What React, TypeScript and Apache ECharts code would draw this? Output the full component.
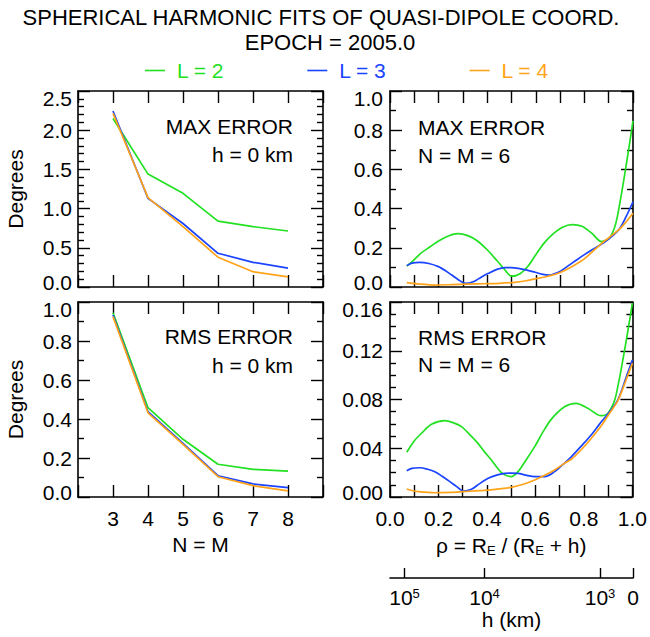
import React, { useEffect, useRef } from 'react';
import * as echarts from 'echarts';

const FONT = '"Liberation Sans", Arial, Helvetica, sans-serif';
const GREEN = '#22e022';
const BLUE = '#1a44ff';
const ORANGE = '#ffa31a';

const seriesNames = ['L = 2', 'L = 3', 'L = 4'];
const seriesColors = [GREEN, BLUE, ORANGE];

// Left panels: x = N = M
const nm = [3, 4, 5, 6, 7, 8];
const maxH0L2 = [2.15, 1.44, 1.195, 0.84, 0.77, 0.714];
const maxH0L3 = [2.245, 1.13, 0.81, 0.43, 0.315, 0.24];
const maxH0L4 = [2.215, 1.14, 0.77, 0.38, 0.195, 0.13];
const rmsH0L2 = [0.945, 0.458, 0.296, 0.168, 0.142, 0.133];
const rmsH0L3 = [0.933, 0.4375, 0.275, 0.109, 0.067, 0.048];
const rmsH0L4 = [0.925, 0.432, 0.27, 0.104, 0.058, 0.031];

// Right panels: [rho, degrees], N = M = 6
const maxN6L2: [number, number][] = [
  [0.069, 0.106], [0.1, 0.14], [0.13, 0.175], [0.165, 0.205], [0.2, 0.235], [0.24, 0.26],
  [0.28, 0.272], [0.32, 0.262], [0.36, 0.235], [0.4, 0.19], [0.44, 0.135], [0.47, 0.092],
  [0.5, 0.055], [0.535, 0.068], [0.57, 0.11], [0.6, 0.165], [0.635, 0.225], [0.67, 0.27],
  [0.71, 0.305], [0.75, 0.318], [0.79, 0.31], [0.83, 0.275], [0.87, 0.232], [0.905, 0.252],
  [0.935, 0.355], [1.0, 0.847],
];
const maxN6L3: [number, number][] = [
  [0.069, 0.109], [0.09, 0.122], [0.123, 0.126], [0.16, 0.12], [0.199, 0.104], [0.23, 0.082],
  [0.254, 0.061], [0.28, 0.038], [0.309, 0.019], [0.343, 0.027], [0.375, 0.05], [0.405, 0.07],
  [0.44, 0.09], [0.473, 0.099], [0.5, 0.099], [0.528, 0.095], [0.56, 0.087], [0.597, 0.075],
  [0.63, 0.064], [0.652, 0.061], [0.693, 0.075], [0.73, 0.105], [0.768, 0.138], [0.8, 0.165],
  [0.83, 0.189], [0.885, 0.231], [0.94, 0.29], [0.97, 0.355], [1.0, 0.435],
];
const maxN6L4: [number, number][] = [
  [0.069, 0.022], [0.12, 0.015], [0.185, 0.01], [0.25, 0.012], [0.32, 0.015], [0.39, 0.017],
  [0.45, 0.019], [0.514, 0.024], [0.56, 0.032], [0.597, 0.041], [0.65, 0.055], [0.693, 0.07],
  [0.75, 0.105], [0.802, 0.146], [0.871, 0.223], [0.94, 0.29], [0.97, 0.33], [1.0, 0.376],
];
const rmsN6L2: [number, number][] = [
  [0.069, 0.0367], [0.1, 0.046], [0.13, 0.0523], [0.171, 0.0596], [0.226, 0.0626], [0.26, 0.061],
  [0.295, 0.0577], [0.33, 0.051], [0.363, 0.044], [0.39, 0.037], [0.418, 0.0304], [0.46, 0.02],
  [0.5, 0.0167], [0.528, 0.0208], [0.56, 0.03], [0.597, 0.0413], [0.63, 0.053], [0.665, 0.0637],
  [0.72, 0.074], [0.768, 0.0769], [0.816, 0.0728], [0.871, 0.0667], [0.901, 0.0692],
  [0.933, 0.084], [1.0, 0.159],
];
const rmsN6L3: [number, number][] = [
  [0.069, 0.0216], [0.09, 0.0235], [0.123, 0.024], [0.155, 0.0228], [0.185, 0.0208], [0.215, 0.017],
  [0.247, 0.0126], [0.275, 0.0085], [0.302, 0.0049], [0.336, 0.0063], [0.37, 0.011], [0.405, 0.0153],
  [0.44, 0.018], [0.473, 0.0194], [0.5, 0.0196], [0.528, 0.0194], [0.56, 0.018], [0.597, 0.0167],
  [0.638, 0.0167], [0.679, 0.0208], [0.715, 0.027], [0.748, 0.033], [0.79, 0.042], [0.83, 0.0509],
  [0.865, 0.06], [0.901, 0.0687], [0.94, 0.0796], [0.98, 0.1015], [1.0, 0.1124],
];
const rmsN6L4: [number, number][] = [
  [0.069, 0.0066], [0.09, 0.0053], [0.117, 0.0044], [0.185, 0.0035], [0.25, 0.0038], [0.302, 0.0044],
  [0.35, 0.005], [0.405, 0.0057], [0.45, 0.0066], [0.5, 0.0079], [0.55, 0.0105], [0.597, 0.014],
  [0.64, 0.018], [0.679, 0.0222], [0.715, 0.027], [0.748, 0.031], [0.79, 0.039], [0.83, 0.048],
  [0.87, 0.058], [0.901, 0.0673], [0.94, 0.079], [0.97, 0.094], [1.0, 0.1097],
];

// Secondary altitude axis
const earthRadiusKm = 6371.2;
const hTicksKm = [100000, 10000, 1000, 0];
const hTickLabels = ['10{sup|5}', '10{sup|4}', '10{sup|3}', '0'];

const titleLines = ['SPHERICAL HARMONIC FITS OF QUASI-DIPOLE COORD.', 'EPOCH = 2005.0'];

const BLACK = '#000';
const axisLineStyle = { color: BLACK, width: 1.6 };
const tickStyle = { color: BLACK, width: 1.4 };
const baseText = { fontSize: 21, fontFamily: FONT, color: BLACK };

function xAxes(grid: number, min: number, max: number, interval: number, labelFn: ((v: number) => string) | null, name?: any) {
  const base = {
    gridIndex: grid, type: 'value', min, max, interval,
    axisLine: { show: true, onZero: false, lineStyle: axisLineStyle },
    axisTick: { show: true, inside: true, length: 12, lineStyle: tickStyle },
    splitLine: { show: false },
  };
  return [
    {
      ...base, position: 'bottom',
      axisLabel: labelFn
        ? { show: true, formatter: labelFn, ...baseText, margin: 11, showMinLabel: true, showMaxLabel: true, hideOverlap: false }
        : { show: false },
      ...(name || {}),
    },
    { ...base, position: 'top', axisLabel: { show: false } },
  ];
}

function yAxes(grid: number, min: number, max: number, interval: number, minorSplit: number, digits: number, margin: number, withName: boolean) {
  const base = {
    gridIndex: grid, type: 'value', min, max, interval,
    axisLine: { show: true, onZero: false, lineStyle: axisLineStyle },
    axisTick: { show: true, inside: true, length: 12, lineStyle: tickStyle },
    minorTick: { show: true, splitNumber: minorSplit, length: 6, lineStyle: tickStyle },
    splitLine: { show: false },
    minorSplitLine: { show: false },
  };
  const fmt = (v: number) => {
    const s = v.toFixed(digits);
    if (Math.abs(v - min) < 1e-9) return `{lo|${s}}`;
    if (Math.abs(v - max) < 1e-9) return `{hi|${s}}`;
    return s;
  };
  return [
    {
      ...base, position: 'left',
      axisLabel: {
        show: true, formatter: fmt, ...baseText, margin,
        rich: {
          lo: { ...baseText, padding: [0, 0, 10, 0] },
          hi: { ...baseText, padding: [14, 0, 0, 0] },
        },
      },
      ...(withName
        ? {
            name: 'Degrees', nameLocation: 'middle', nameRotate: 90, nameGap: 52,
            nameTextStyle: baseText,
          }
        : {}),
    },
    { ...base, position: 'right', axisLabel: { show: false } },
  ];
}

const nmLabel = (v: number) => (v >= 3 && v <= 8 ? String(v) : '');
const rhoLabel = (v: number) => (Math.round(v * 10) % 2 === 0 ? v.toFixed(1) : '');

function line(name: string, color: string, data: any[], grid: number, smooth: number | boolean) {
  return {
    type: 'line', name, data, xAxisIndex: 2 * grid, yAxisIndex: 2 * grid,
    symbol: 'none', showSymbol: false, smooth,
    lineStyle: { color, width: 1.7 }, itemStyle: { color },
  };
}

const zip = (xs: number[], ys: number[]) => xs.map((x, i) => [x, ys[i]]);

function textEl(text: string, x: number, y: number, align: string, size = 21) {
  return {
    type: 'text', x, y, silent: true,
    style: {
      text, fill: BLACK, fontSize: size, fontFamily: FONT,
      align, textAlign: align, verticalAlign: 'middle', textVerticalAlign: 'middle',
    },
  };
}

export default function App() {
  const ref = useRef<HTMLDivElement>(null);
  useEffect(() => {
    if (!ref.current) return;
    const chart = echarts.init(ref.current, undefined, { renderer: 'svg' });
    const rhoTicks = hTicksKm.map((h) => earthRadiusKm / (earthRadiusKm + h));
    const hLabel = (v: number) => {
      let best = 0;
      rhoTicks.forEach((r, i) => { if (Math.abs(r - v) < Math.abs(rhoTicks[best] - v)) best = i; });
      return hTickLabels[best];
    };
    const option: any = {
      animation: false,
      backgroundColor: '#fff',
      textStyle: { fontFamily: FONT },
      grid: [
        { left: 78, top: 91, width: 245, height: 196 },
        { left: 390, top: 91, width: 243, height: 196 },
        { left: 78, top: 302, width: 245, height: 195 },
        { left: 390, top: 302, width: 243, height: 195 },
        { left: 390, top: 568, width: 243, height: 10 },
      ],
      xAxis: [
        ...xAxes(0, 2, 9, 1, null),
        ...xAxes(1, 0, 1, 0.1, null),
        ...xAxes(2, 2, 9, 1, nmLabel, {
          name: 'N = M', nameLocation: 'middle', nameGap: 37,
          nameTextStyle: baseText,
        }),
        ...xAxes(3, 0, 1, 0.1, rhoLabel, {
          name: '{n|ρ = R}{s|E}{n| / (R}{s|E}{n| + h)}', nameLocation: 'middle', nameGap: 36,
          nameTextStyle: {
            ...baseText,
            rich: {
              n: { ...baseText, lineHeight: 24 },
              s: { fontSize: 13, fontFamily: FONT, color: BLACK, lineHeight: 13, verticalAlign: 'bottom' },
            },
          },
        }),
        {
          gridIndex: 4, type: 'value', min: 0, max: 1, position: 'bottom',
          axisLine: { show: true, onZero: false, lineStyle: axisLineStyle },
          axisTick: { show: true, inside: true, length: 10, lineStyle: tickStyle, customValues: rhoTicks },
          axisLabel: {
            show: true, customValues: rhoTicks, formatter: hLabel, ...baseText,
            margin: 9, hideOverlap: false,
            rich: {
              sup: { fontSize: 13, fontFamily: FONT, color: BLACK, lineHeight: 13, verticalAlign: 'top' },
            },
          },
          splitLine: { show: false },
          name: 'h (km)', nameLocation: 'middle', nameGap: 29,
          nameTextStyle: baseText,
        },
      ],
      yAxis: [
        ...yAxes(0, 0, 2.5, 0.5, 5, 1, 6, true),
        ...yAxes(1, 0, 1, 0.2, 2, 1, 7, false),
        ...yAxes(2, 0, 1, 0.2, 2, 1, 6, true),
        ...yAxes(3, 0, 0.16, 0.04, 4, 2, 7, false),
        { gridIndex: 4, type: 'value', show: false, min: 0, max: 1 },
      ],
      legend: {
        left: 140, top: 55, icon: 'rect', itemWidth: 20, itemHeight: 1.6, itemGap: 83,
        selectedMode: false,
        textStyle: { fontSize: 21, fontFamily: FONT, padding: [0, 0, 0, 7] },
        data: seriesNames.map((n, i) => ({ name: n, textStyle: { color: seriesColors[i] } })),
      },
      graphic: [
        textEl(titleLines[0], 321, 17, 'center', 22),
        textEl(titleLines[1], 330, 42, 'center', 22),
        textEl('MAX ERROR', 293, 126, 'right'),
        textEl('h = 0 km', 293, 154, 'right'),
        textEl('MAX ERROR', 418, 127, 'left'),
        textEl('N = M = 6', 418, 155, 'left'),
        textEl('RMS ERROR', 293, 336, 'right'),
        textEl('h = 0 km', 293, 365, 'right'),
        textEl('RMS ERROR', 418, 337, 'left'),
        textEl('N = M = 6', 418, 364, 'left'),
      ],
      series: [
        line(seriesNames[0], GREEN, zip(nm, maxH0L2), 0, false),
        line(seriesNames[1], BLUE, zip(nm, maxH0L3), 0, false),
        line(seriesNames[2], ORANGE, zip(nm, maxH0L4), 0, false),
        line(seriesNames[0], GREEN, maxN6L2, 1, 0.3),
        line(seriesNames[1], BLUE, maxN6L3, 1, 0.3),
        line(seriesNames[2], ORANGE, maxN6L4, 1, 0.3),
        line(seriesNames[0], GREEN, zip(nm, rmsH0L2), 2, false),
        line(seriesNames[1], BLUE, zip(nm, rmsH0L3), 2, false),
        line(seriesNames[2], ORANGE, zip(nm, rmsH0L4), 2, false),
        line(seriesNames[0], GREEN, rmsN6L2, 3, 0.3),
        line(seriesNames[1], BLUE, rmsN6L3, 3, 0.3),
        line(seriesNames[2], ORANGE, rmsN6L4, 3, 0.3),
      ],
    };
    chart.setOption(option);
    return () => chart.dispose();
  }, []);
  return (
    <div
      ref={ref}
      style={{ position: 'fixed', left: 0, top: 0, width: 650, height: 637, background: '#fff' }}
    />
  );
}
